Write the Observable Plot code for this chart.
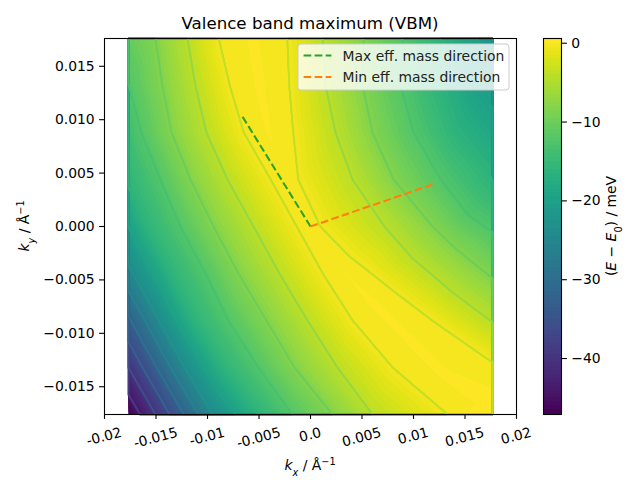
<!DOCTYPE html>
<html><head><meta charset="utf-8">
<script src="https://cdn.jsdelivr.net/npm/d3@7"></script>
<script src="https://cdn.jsdelivr.net/npm/@observablehq/plot@0.6"></script>
<style>
body{margin:0;background:white;}
#wrap{position:relative;width:640px;height:480px;font-family:"DejaVu Sans",sans-serif;}
#wrap svg{position:absolute;top:0;overflow:visible;}
</style></head><body><div id="wrap"></div>
<script>
// ---- data: where each contour level crosses (kx, ky) ----
const traceLevels = [0, 0, -4, -4, -8, -8, -12, -12, -16, -16, -20, -24, -40];
const traceKx = [
  [-0.00893, -0.00786, -0.00650, -0.00388, -0.00136, 0.00117, 0.00408, 0.00796, 0.01330],
  [-0.00223, -0.00204, -0.00165, -0.00117, 0.00097, 0.00369, 0.00592, 0.00825, 0.01184, 0.01767],
  [-0.01194, -0.01117, -0.01010, -0.00806, -0.00553, -0.00301, -0.00029, 0.00262, 0.00602],
  [0.00117, 0.00146, 0.00243, 0.00408, 0.00718, 0.00990, 0.01165, 0.01379, 0.01767],
  [-0.01505, -0.01437, -0.01350, -0.01165, -0.00942, -0.00699, -0.00427, -0.00155, 0.00214],
  [0.00515, 0.00505, 0.00602, 0.00806, 0.01184, 0.01408, 0.01767],
  [-0.01767, -0.01641, -0.01456, -0.01262, -0.01019, -0.00796, -0.00505, -0.00175],
  [0.00893, 0.00874, 0.01000, 0.01262, 0.01534, 0.01767],
  [-0.01767, -0.01602, -0.01359, -0.01136, -0.00854, -0.00515],
  [0.01262, 0.01262, 0.01417, 0.01718, 0.01767],
  [0.01621, 0.01631, 0.01767],
  [-0.01767, -0.01515, -0.01262, -0.00951],
  [-0.01767, -0.01641, -0.01505]
];
const traceKy = [
  [0.0176, 0.0132, 0.0088, 0.0044, 0, -0.0044, -0.0088, -0.0132, -0.0176],
  [0.0176, 0.0132, 0.0088, 0.0044, 0, -0.00271, -0.0044, -0.00617, -0.0088, -0.01271],
  [0.0176, 0.0132, 0.0088, 0.0044, 0, -0.0044, -0.0088, -0.0132, -0.0176],
  [0.0176, 0.0132, 0.0088, 0.0044, 0, -0.00299, -0.0044, -0.00617, -0.00897],
  [0.0176, 0.0132, 0.0088, 0.0044, 0, -0.0044, -0.0088, -0.0132, -0.0176],
  [0.0176, 0.0132, 0.0088, 0.0044, 0, -0.00206, -0.00486],
  [0.01336, 0.0088, 0.0044, 0, -0.0044, -0.0088, -0.0132, -0.0176],
  [0.0176, 0.0132, 0.0088, 0.0044, 0.00103, -0.00056],
  [0.00364, 0, -0.0044, -0.0088, -0.0132, -0.0176],
  [0.0176, 0.0132, 0.0088, 0.00523, 0.00430],
  [0.0176, 0.0132, 0.01103],
  [-0.00364, -0.00804, -0.01252, -0.0176],
  [-0.0132, -0.01533, -0.0176]
];
// other samples: ridge crest and corners
const spotKx = [-0.00563, -0.00495, -0.00408, -0.00252, -0.00019, 0.00243, 0.00583, 0.00971, 0.01311, 0.01650, 0.01767, 0.01767, 0.01553,
  0.01767, -0.01767, -0.01767];
const spotKy = [0.0176, 0.0132, 0.0088, 0.0044, 0, -0.00336, -0.00692, -0.01065, -0.01393, -0.01626, -0.0176, -0.01514, -0.0176,
  0.0176, 0.0176, -0.0176];
const spotE = [0.6, 0.6, 0.55, 0.35, 0.15, 0.45, 0.6, 0.6, 0.6, 0.6, 0.6, 0.5, 0.55,
  -22.5, -10.5, -47];

const dirNames = ["Max eff. mass direction", "Min eff. mass direction"];
const dirColors = ["#2ca02c", "#ff7f0e"];
const dirEndKx = [-0.0066, 0.01184];
const dirEndKy = [0.01028, 0.00393];

const xTicks = [-0.02, -0.015, -0.01, -0.005, 0, 0.005, 0.01, 0.015, 0.02];
const xTickLabels = ["-0.02", "-0.015", "-0.01", "-0.005", "0.0", "0.005", "0.01", "0.015", "0.02"];
const yTicks = [-0.015, -0.01, -0.005, 0, 0.005, 0.01, 0.015];
const yTickLabels = ["\u22120.015", "\u22120.010", "\u22120.005", "0.000", "0.005", "0.010", "0.015"];
const cbTicks = [0, -10, -20, -30, -40];
const colorDomain = [-47.1, 0.6];
const fillLevels = d3.range(-47.5, 1.0, 0.5);
const lineLevels = d3.range(-44, 1, 4);

// ---- build ----
const points = [];
traceLevels.forEach((L, i) => traceKx[i].forEach((kx, j) => points.push({kx, ky: traceKy[i][j], e: L})));
spotKx.forEach((kx, i) => points.push({kx, ky: spotKy[i], e: spotE[i]}));
const bounds = {x1: -0.01767, x2: 0.01767, y1: -0.0176, y2: 0.0176};
const tFill = v => (v - colorDomain[0]) / (colorDomain[1] - colorDomain[0]);
const lineColor = L => d3.interpolateViridis(0.8 * tFill(L) + 0.12);
const dirs = dirNames.map((name, i) => ({name, color: dirColors[i], x1: 0, y1: 0, x2: dirEndKx[i], y2: dirEndKy[i]}));
const FS = 13.9;
const ff = "DejaVu Sans, sans-serif";
const LW = 2.08;

const main = Plot.plot({
  width: 640, height: 480,
  marginLeft: 104, marginRight: 124, marginTop: 38, marginBottom: 66,
  style: {fontFamily: ff, fontSize: FS + "px", color: "black", background: "white", overflow: "visible"},
  x: {domain: [-0.02, 0.02]},
  y: {domain: [-0.0176, 0.0176]},
  color: {type: "linear", scheme: "viridis", domain: colorDomain},
  marks: [
    Plot.contour(points, {x: "kx", y: "ky", fill: "e", thresholds: fillLevels, interpolate: "barycentric", pixelSize: 1, ...bounds}),
    ...lineLevels.map(L => Plot.contour(points, {x: "kx", y: "ky", value: "e", thresholds: [L], interpolate: "barycentric", pixelSize: 1, stroke: lineColor(L), strokeWidth: LW, ...bounds})),
    ...dirs.map(d => Plot.link([d], {x1: "x1", y1: "y1", x2: "x2", y2: "y2", stroke: d.color, strokeWidth: LW, strokeDasharray: "7.7,3.33"})),
    Plot.frame({stroke: "black", strokeWidth: 1.1}),
    Plot.axisX({ticks: xTicks, tickSize: 4.9, tickFormat: () => "", label: null, strokeWidth: 1.1}),
    Plot.axisY({ticks: yTicks, tickSize: 4.9, tickPadding: 4.9, tickFormat: d => yTickLabels[yTicks.indexOf(d)], label: null, strokeWidth: 1.1})
  ]
});
main.style.left = "0px";
document.getElementById("wrap").appendChild(main);

const cb = Plot.plot({
  width: 120, height: 480,
  marginLeft: 23, marginRight: 79, marginTop: 38, marginBottom: 66,
  style: {fontFamily: ff, fontSize: FS + "px", color: "black", background: "transparent", overflow: "visible"},
  x: {domain: [0, 1], axis: null},
  y: {domain: colorDomain},
  color: {type: "linear", scheme: "viridis", domain: colorDomain},
  marks: [
    Plot.rect(fillLevels, {x1: 0, x2: 1, y1: d => d, y2: d => d + 0.5, fill: d => d + 0.25, clip: true, shapeRendering: "crispEdges"}),
    Plot.frame({stroke: "black", strokeWidth: 1.1}),
    Plot.axisY({anchor: "right", ticks: cbTicks, tickSize: 4.9, tickPadding: 4.9, tickFormat: d => d < 0 ? "\u2212" + (-d) : String(d), label: null, strokeWidth: 1.1})
  ]
});
cb.style.left = "520px";
document.getElementById("wrap").appendChild(cb);

// ---- texts ----
const svg = d3.select(main);
const sx = main.scale("x");
const s15 = Math.sin(15 * Math.PI / 180), c15 = Math.cos(15 * Math.PI / 180);
xTicks.forEach((t, i) => {
  const el = svg.append("text").attr("font-family", ff).attr("font-size", FS)
    .attr("text-anchor", "middle").attr("dominant-baseline", "central").text(xTickLabels[i]);
  const w = el.node().getComputedTextLength();
  const cy = 423.7 + (w * s15 + 16.2 * c15) / 2;
  el.attr("transform", `translate(${sx.apply(t)},${cy}) rotate(-15)`);
});
function mathLabel(g, parts) {
  parts.forEach(p => {
    const ts = g.append("tspan").text(p.t);
    if (p.i) ts.attr("font-style", "italic");
    if (p.sub) ts.attr("baseline-shift", "sub").attr("font-size", "70%");
    if (p.sup) ts.attr("baseline-shift", "super").attr("font-size", "70%");
  });
}
svg.append("text").attr("x", 310).attr("y", 29).attr("text-anchor", "middle")
  .attr("font-family", ff).attr("font-size", 16.67).text("Valence band maximum (VBM)");
mathLabel(svg.append("text").attr("x", 310).attr("y", 470).attr("text-anchor", "middle")
  .attr("font-family", ff).attr("font-size", FS),
  [{t: "k", i: 1}, {t: "x", i: 1, sub: 1}, {t: " / \u00c5"}, {t: "\u22121", sup: 1}]);
mathLabel(svg.append("text").attr("transform", "translate(29,226) rotate(-90)").attr("text-anchor", "middle")
  .attr("font-family", ff).attr("font-size", FS),
  [{t: "k", i: 1}, {t: "y", i: 1, sub: 1}, {t: " / \u00c5"}, {t: "\u22121", sup: 1}]);

// legend
const lg = svg.append("g");
lg.append("rect").attr("x", 298).attr("y", 44).attr("width", 211).attr("height", 46).attr("rx", 3)
  .attr("fill", "white").attr("fill-opacity", 0.8).attr("stroke", "#cccccc").attr("stroke-width", 1);
dirs.forEach((d, i) => {
  const y = 55.5 + i * 21.5;
  lg.append("line").attr("x1", 303.6).attr("x2", 331.4).attr("y1", y).attr("y2", y)
    .attr("stroke", d.color).attr("stroke-width", LW).attr("stroke-dasharray", "7.7,3.33");
  lg.append("text").attr("x", 342.5).attr("y", y).attr("dominant-baseline", "central").attr("text-anchor", "start")
    .attr("font-family", ff).attr("font-size", FS).attr("fill", "#222").text(d.name);
});

// colorbar label
const cbs = d3.select(cb);
mathLabel(cbs.append("text").attr("transform", "translate(96,226) rotate(-90)").attr("text-anchor", "middle")
  .attr("font-family", ff).attr("font-size", FS),
  [{t: "("}, {t: "E", i: 1}, {t: " \u2212 "}, {t: "E", i: 1}, {t: "0", sub: 1}, {t: ") / meV"}]);
</script></body></html>
